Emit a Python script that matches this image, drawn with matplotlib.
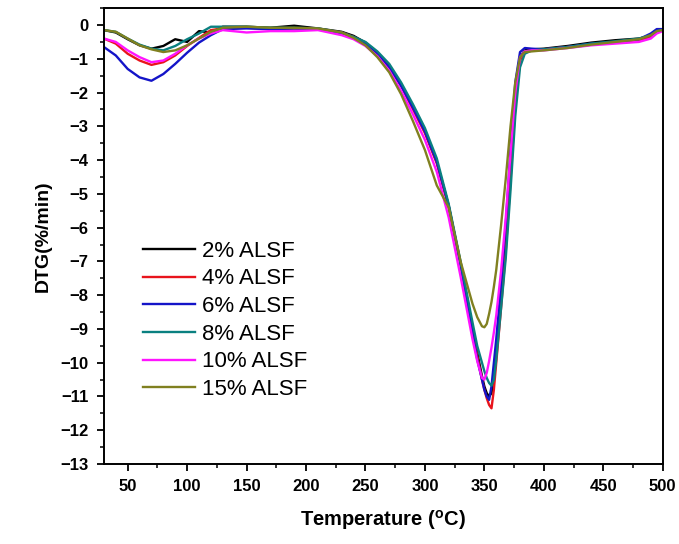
import matplotlib
matplotlib.use('Agg')
import matplotlib.pyplot as plt
from matplotlib.ticker import MultipleLocator

plt.rcParams['font.family'] = ['Liberation Sans', 'DejaVu Sans']
plt.rcParams['mathtext.fontset'] = 'custom'
plt.rcParams['mathtext.rm'] = 'Liberation Sans:bold'

# temperature grid (°C)
temp = [30, 40, 50, 60, 70, 80, 90, 100, 110, 120, 130, 150, 170, 190, 210, 230,
        240, 250, 260, 270, 280, 290, 300, 310, 320, 330, 340, 344, 348, 350, 352,
        354, 356, 358, 360, 364, 368, 372, 376, 380, 384, 390, 400, 420, 440, 460,
        480, 490, 495, 500]

alsf_2 = [-0.15, -0.22, -0.42, -0.60, -0.70, -0.62, -0.42, -0.50, -0.18, -0.22, -0.05, -0.05,
          -0.08, -0.02, -0.10, -0.20, -0.32, -0.52, -0.82, -1.22, -1.78, -2.45, -3.15, -4.05,
          -5.35, -7.05, -8.95, -9.70, -10.40, -10.70, -10.90, -11.00, -10.90, -10.40, -9.70,
          -8.10, -6.30, -4.20, -2.10, -0.95, -0.75, -0.72, -0.70, -0.62, -0.52, -0.45, -0.40,
          -0.32, -0.18, -0.12]
alsf_4 = [-0.40, -0.55, -0.85, -1.05, -1.18, -1.10, -0.90, -0.62, -0.38, -0.15, -0.10, -0.08,
          -0.12, -0.10, -0.12, -0.22, -0.35, -0.55, -0.85, -1.25, -1.80, -2.50, -3.20, -4.10,
          -5.40, -7.10, -9.00, -9.80, -10.50, -10.80, -11.05, -11.25, -11.35, -10.80, -10.00,
          -8.40, -6.70, -4.60, -2.40, -1.05, -0.78, -0.75, -0.72, -0.65, -0.58, -0.50, -0.45,
          -0.35, -0.20, -0.15]
alsf_6 = [-0.65, -0.90, -1.30, -1.55, -1.65, -1.45, -1.15, -0.82, -0.52, -0.30, -0.12, -0.10,
          -0.12, -0.10, -0.12, -0.25, -0.38, -0.55, -0.85, -1.25, -1.80, -2.45, -3.15, -4.05,
          -5.35, -7.10, -9.10, -9.90, -10.50, -10.80, -11.00, -11.10, -10.70, -10.00, -9.30,
          -7.70, -5.90, -3.70, -1.70, -0.80, -0.68, -0.70, -0.72, -0.65, -0.55, -0.50, -0.42,
          -0.25, -0.12, -0.12]
alsf_8 = [-0.15, -0.20, -0.40, -0.58, -0.70, -0.75, -0.62, -0.42, -0.25, -0.05, -0.05, -0.05,
          -0.08, -0.08, -0.10, -0.22, -0.35, -0.50, -0.78, -1.15, -1.70, -2.35, -3.05, -3.95,
          -5.30, -7.00, -8.80, -9.50, -10.00, -10.25, -10.45, -10.60, -10.68, -10.50, -9.90,
          -8.40, -6.90, -4.90, -2.70, -1.25, -0.85, -0.75, -0.72, -0.65, -0.55, -0.48, -0.40,
          -0.30, -0.18, -0.15]
alsf_10 = [-0.40, -0.50, -0.75, -0.95, -1.10, -1.05, -0.85, -0.60, -0.40, -0.25, -0.15, -0.22,
           -0.18, -0.18, -0.15, -0.30, -0.42, -0.62, -0.92, -1.35, -1.95, -2.65, -3.40, -4.35,
           -5.70, -7.45, -9.30, -9.95, -10.45, -10.50, -10.30, -9.95, -9.55, -9.10, -8.60,
           -7.30, -5.70, -3.80, -2.00, -0.95, -0.78, -0.75, -0.75, -0.68, -0.60, -0.55, -0.50,
           -0.40, -0.25, -0.18]
alsf_15 = [-0.15, -0.20, -0.40, -0.60, -0.72, -0.80, -0.75, -0.60, -0.40, -0.20, -0.08, -0.05,
           -0.08, -0.08, -0.10, -0.22, -0.38, -0.60, -0.95, -1.40, -2.05, -2.85, -3.70, -4.75,
           -5.40, -7.00, -8.25, -8.65, -8.92, -8.95, -8.85, -8.55, -8.20, -7.75, -7.25,
           -5.95, -4.55, -3.00, -1.70, -0.95, -0.80, -0.78, -0.75, -0.68, -0.58, -0.50, -0.42,
           -0.30, -0.18, -0.15]

labels = ['2% ALSF', '4% ALSF', '6% ALSF', '8% ALSF', '10% ALSF', '15% ALSF']
colors = ['black', '#e8141c', '#1414c8', '#0a8080', '#ff14ff', '#808020']
series = [alsf_2, alsf_4, alsf_6, alsf_8, alsf_10, alsf_15]

fig = plt.figure(figsize=(6.79, 5.44), dpi=100)
ax = fig.add_axes([0.153, 0.147, 0.823, 0.838])

for vals, lab, col in zip(series, labels, colors):
    ax.plot(temp, vals, color=col, lw=1.7, label=lab)

ax.set_xlim(30, 500)
ax.set_ylim(-13, 0.5)
ax.xaxis.set_major_locator(MultipleLocator(50))
ax.xaxis.set_minor_locator(MultipleLocator(25))
ax.yaxis.set_major_locator(MultipleLocator(1))
ax.yaxis.set_minor_locator(MultipleLocator(0.5))
ax.set_xticks(range(50, 501, 50))
ax.tick_params(which='major', direction='out', length=5, width=1.3, labelsize=12, pad=6)
ax.tick_params(which='minor', direction='out', length=3, width=1.1)
for lbl in ax.get_xticklabels() + ax.get_yticklabels():
    lbl.set_fontweight('bold')
for sp in ax.spines.values():
    sp.set_linewidth(1.4)

ax.set_xlabel(r'Temperature ($^{\rm o}$C)', fontsize=14.5, fontweight='bold', labelpad=10)
ax.set_ylabel('DTG(%/min)', fontsize=14, fontweight='bold', labelpad=6)

ax.legend(loc='upper left', bbox_to_anchor=(0.07, 0.49), frameon=False, fontsize=16,
          handlelength=2.35, handletextpad=0.3, labelspacing=0.3, borderpad=0,
          borderaxespad=0)

fig.savefig('out.png', dpi=100)
